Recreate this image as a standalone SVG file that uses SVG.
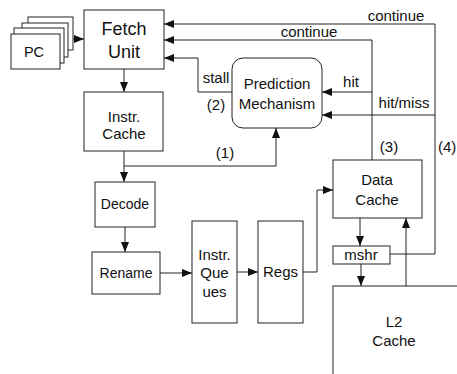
<svg xmlns="http://www.w3.org/2000/svg" width="457" height="374" viewBox="0 0 457 374">
<style>
.box{fill:#fff;stroke:#222;stroke-width:1}
.ln{fill:none;stroke:#222;stroke-width:1}
.arr{marker-end:url(#ah)}
text{font-family:"Liberation Sans",Arial,sans-serif;font-size:15px;fill:#111;text-anchor:middle}
.big{font-size:18px}
.sm{font-size:14px}
</style>
<defs>
<marker id="ah" markerWidth="10" markerHeight="8" refX="10" refY="4" orient="auto" markerUnits="userSpaceOnUse">
<path d="M0,0 L10,4 L0,8 Z" fill="#111"/>
</marker>
</defs>
<rect x="0" y="0" width="457" height="374" fill="#fff"/>
<g id="connectors">
<path class="ln arr" d="M60,39 H84"/>
<path class="ln arr" d="M124,69 V92"/>
<path class="ln arr" d="M124,151 V182"/>
<path class="ln arr" d="M124,166 H276 V128"/>
<path class="ln arr" d="M125,227 V252"/>
<path class="ln arr" d="M160,273 H192"/>
<path class="ln arr" d="M237,272 H258"/>
<path class="ln arr" d="M303,272 H317 V190 H333"/>
<path class="ln arr" d="M360,218 V246"/>
<path class="ln arr" d="M361,264 V286"/>
<path class="ln arr" d="M406,286 V218"/>
<path class="ln arr" d="M390,254 H435 V24 H164"/>
<path class="ln arr" d="M372,160 V40 H164"/>
<path class="ln arr" d="M372,92 H322"/>
<path class="ln arr" d="M435,115 H322"/>
<path class="ln arr" d="M232,92 H198 V58 H164"/>
<text x="396" y="21">continue</text>
<text x="309" y="37">continue</text>
<text x="351" y="87">hit</text>
<text x="404" y="108">hit/miss</text>
<text x="216" y="83">stall</text>
<text x="216" y="110">(2)</text>
<text x="225" y="158">(1)</text>
<text x="389" y="152">(3)</text>
<text x="438" y="152" style="text-anchor:start">(4)</text>
</g>
<g id="pc">
<rect class="box" x="28" y="17" width="45" height="33"/>
<rect class="box" x="22" y="23" width="46" height="34"/>
<rect class="box" x="14" y="28" width="50" height="35"/>
<rect class="box" x="11" y="34" width="49" height="35"/>
<text x="34" y="57" style="font-size:14.5px">PC</text>
</g>
<g id="fetch">
<rect class="box" x="84" y="10" width="80" height="59"/>
<text class="big" x="124" y="35">Fetch</text>
<text class="big" x="124" y="58">Unit</text>
</g>
<g id="icache">
<rect class="box" x="84" y="92" width="79" height="59"/>
<text x="124" y="122">Instr.</text>
<text x="124" y="139">Cache</text>
</g>
<g id="predict">
<rect class="box" x="232" y="58" width="90" height="70" rx="11" ry="11"/>
<text x="277" y="89">Prediction</text>
<text x="277" y="109">Mechanism</text>
</g>
<g id="decode">
<rect class="box" x="95" y="182" width="60" height="45"/>
<text class="sm" x="125" y="209">Decode</text>
</g>
<g id="rename">
<rect class="box" x="92" y="252" width="68" height="42"/>
<text class="sm" x="126" y="278">Rename</text>
</g>
<g id="iq">
<rect class="box" x="192" y="221" width="45" height="102"/>
<text x="214.5" y="260">Instr.</text>
<text x="214.5" y="278">Que</text>
<text x="214.5" y="297">ues</text>
</g>
<g id="regs">
<rect class="box" x="258" y="221" width="45" height="102"/>
<text x="280.5" y="277">Regs</text>
</g>
<g id="dcache">
<rect class="box" x="333" y="160" width="89" height="58"/>
<text x="377" y="185">Data</text>
<text x="377" y="205">Cache</text>
</g>
<g id="mshr">
<rect class="box" x="333" y="246" width="57" height="18"/>
<text x="361" y="260">mshr</text>
</g>
<g id="l2">
<rect class="box" x="333" y="286" width="200" height="200"/>
<text x="394" y="327">L2</text>
<text x="394" y="346">Cache</text>
</g>
</svg>
